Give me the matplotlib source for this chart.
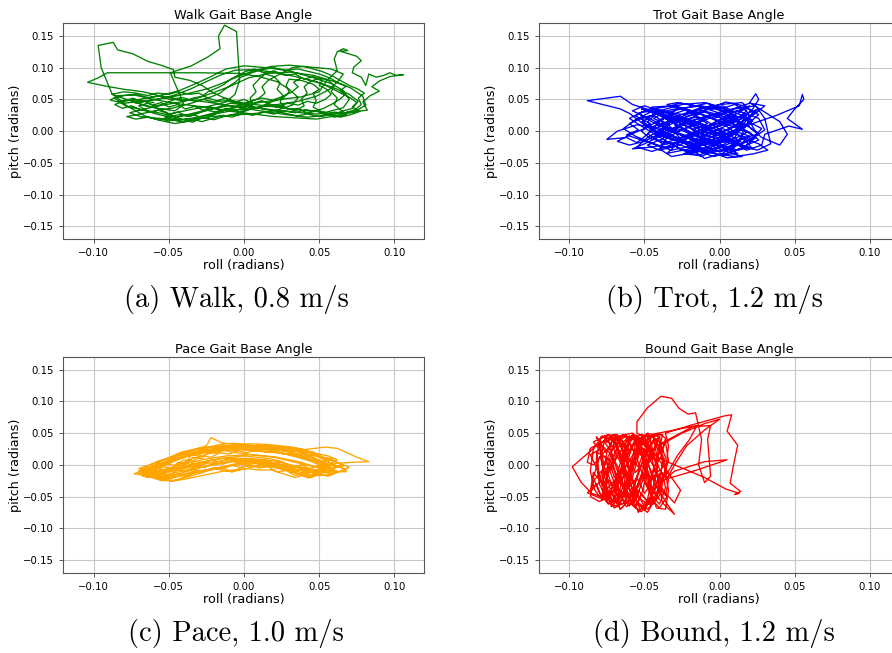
import matplotlib
matplotlib.use("Agg")
import matplotlib.pyplot as plt

# Base orientation traces, (roll, pitch) in radians, one per gait
walk_path = [
    (-0.060, 0.045), (-0.072, 0.050), (-0.083, 0.046), (-0.078, 0.039), (-0.066, 0.033),
    (-0.055, 0.028), (-0.045, 0.022), (-0.036, 0.027), (-0.024, 0.034), (-0.010, 0.040),
    (0.004, 0.038), (0.018, 0.034), (0.033, 0.030), (0.048, 0.027), (0.062, 0.029),
    (0.072, 0.036), (0.076, 0.047), (0.070, 0.058), (0.060, 0.068), (0.048, 0.078),
    (0.034, 0.086), (0.020, 0.093), (0.006, 0.097), (-0.006, 0.096), (-0.016, 0.088),
    (-0.026, 0.077), (-0.036, 0.066), (-0.046, 0.057), (-0.057, 0.050), (-0.068, 0.047),
    (-0.080, 0.044), (-0.089, 0.049), (-0.084, 0.056), (-0.073, 0.057), (-0.062, 0.051),
    (-0.049, 0.045), (-0.037, 0.041), (-0.022, 0.037), (-0.008, 0.031), (0.006, 0.027),
    (0.020, 0.023), (0.034, 0.021), (0.048, 0.019), (0.061, 0.024), (0.073, 0.030),
    (0.081, 0.041), (0.079, 0.055), (0.071, 0.068), (0.059, 0.079), (0.046, 0.088),
    (0.031, 0.093), (0.016, 0.091), (0.003, 0.084), (-0.009, 0.071), (-0.020, 0.061),
    (-0.031, 0.052), (-0.042, 0.046), (-0.054, 0.041), (-0.066, 0.035), (-0.076, 0.029),
    (-0.069, 0.023), (-0.056, 0.020), (-0.043, 0.017), (-0.031, 0.022), (-0.018, 0.030),
    (-0.004, 0.038), (0.010, 0.045), (0.024, 0.050), (0.038, 0.054), (0.050, 0.062),
    (0.055, 0.080), (0.062, 0.095), (0.060, 0.114), (0.062, 0.125), (0.066, 0.130),
    (0.069, 0.127), (0.064, 0.126), (0.075, 0.118), (0.078, 0.111), (0.073, 0.101),
    (0.072, 0.092), (0.078, 0.085), (0.081, 0.072), (0.083, 0.090), (0.088, 0.085),
    (0.093, 0.088), (0.097, 0.092), (0.101, 0.088), (0.106, 0.089), (0.097, 0.086),
    (0.090, 0.079), (0.085, 0.070), (0.090, 0.063), (0.084, 0.056), (0.079, 0.046),
    (0.082, 0.033), (0.070, 0.030), (0.056, 0.025), (0.042, 0.022), (0.028, 0.026),
    (0.014, 0.031), (0.000, 0.036), (-0.014, 0.042), (-0.028, 0.047), (-0.042, 0.050),
    (-0.055, 0.055), (-0.067, 0.062), (-0.080, 0.066), (-0.092, 0.071), (-0.104, 0.077),
    (-0.097, 0.084), (-0.091, 0.092), (-0.060, 0.092), (-0.030, 0.092), (-0.003, 0.091),
    (0.010, 0.086), (0.022, 0.078), (0.030, 0.066), (0.036, 0.053), (0.032, 0.041),
    (0.022, 0.033), (0.008, 0.028), (-0.008, 0.025), (-0.022, 0.023), (-0.036, 0.016),
    (-0.046, 0.012), (-0.056, 0.017), (-0.066, 0.024), (-0.078, 0.040), (-0.088, 0.060),
    (-0.095, 0.100), (-0.097, 0.135), (-0.087, 0.140), (-0.084, 0.128), (-0.074, 0.122),
    (-0.064, 0.110), (-0.054, 0.103), (-0.047, 0.097), (-0.046, 0.085), (-0.036, 0.080),
    (-0.028, 0.072), (-0.020, 0.060), (-0.011, 0.050), (0.000, 0.044), (0.014, 0.040),
    (0.028, 0.036), (0.042, 0.032), (0.055, 0.030), (0.066, 0.037), (0.070, 0.050),
    (0.066, 0.064), (0.058, 0.075), (0.045, 0.085), (0.030, 0.095), (0.015, 0.100),
    (0.000, 0.103), (-0.012, 0.098), (-0.022, 0.086), (-0.033, 0.074), (-0.043, 0.064),
    (-0.054, 0.057), (-0.065, 0.052), (-0.075, 0.048), (-0.068, 0.042), (-0.057, 0.036),
    (-0.046, 0.032), (-0.040, 0.042), (-0.049, 0.092), (-0.035, 0.103), (-0.024, 0.117),
    (-0.016, 0.130), (-0.017, 0.150), (-0.013, 0.167), (-0.005, 0.157), (-0.004, 0.120),
    (-0.003, 0.080), (-0.006, 0.058), (-0.012, 0.046), (-0.022, 0.040), (-0.033, 0.035),
    (-0.044, 0.030), (-0.052, 0.024), (-0.044, 0.018), (-0.032, 0.020), (-0.020, 0.027),
    (-0.006, 0.033), (0.008, 0.037), (0.022, 0.042), (0.036, 0.047), (0.048, 0.055),
    (0.057, 0.066), (0.063, 0.080), (0.066, 0.090), (0.058, 0.098), (0.044, 0.101),
    (0.030, 0.104), (0.018, 0.102), (0.006, 0.095), (-0.004, 0.086), (-0.014, 0.076),
    (-0.024, 0.067), (-0.036, 0.060), (-0.048, 0.054), (-0.060, 0.050), (-0.068, 0.046),
    (-0.074, 0.052), (-0.080, 0.047), (-0.086, 0.042), (-0.081, 0.036), (-0.075, 0.040),
    (-0.069, 0.034), (-0.062, 0.030), (-0.057, 0.033), (-0.050, 0.027), (-0.044, 0.030),
    (-0.038, 0.024), (-0.031, 0.028), (-0.025, 0.033), (-0.018, 0.030), (-0.012, 0.036),
    (-0.005, 0.033), (0.002, 0.039), (0.009, 0.036), (0.016, 0.042), (0.022, 0.038),
    (0.029, 0.044), (0.036, 0.041), (0.042, 0.047), (0.048, 0.044), (0.054, 0.050),
    (0.058, 0.058), (0.055, 0.066), (0.050, 0.072), (0.052, 0.080), (0.046, 0.086),
    (0.040, 0.082), (0.034, 0.090), (0.027, 0.088), (0.020, 0.095), (0.013, 0.092),
    (0.007, 0.098), (0.001, 0.094), (-0.004, 0.088), (-0.009, 0.082), (-0.013, 0.074),
    (-0.018, 0.068), (-0.024, 0.062), (-0.028, 0.055), (-0.034, 0.052), (-0.040, 0.047),
    (-0.046, 0.050), (-0.052, 0.044), (-0.058, 0.040), (-0.064, 0.044), (-0.070, 0.040),
    (-0.066, 0.034), (-0.060, 0.028), (-0.053, 0.024), (-0.048, 0.018), (-0.041, 0.014),
    (-0.034, 0.019), (-0.028, 0.015), (-0.021, 0.020), (-0.014, 0.025), (-0.008, 0.022),
    (-0.001, 0.028), (0.006, 0.025), (0.013, 0.030), (0.020, 0.027), (0.027, 0.032),
    (0.034, 0.029), (0.041, 0.034), (0.047, 0.031), (0.053, 0.036), (0.058, 0.042),
    (0.063, 0.049), (0.067, 0.057), (0.064, 0.064), (0.068, 0.071), (0.062, 0.077),
    (0.057, 0.084), (0.050, 0.090), (0.043, 0.094), (0.036, 0.098), (0.028, 0.096),
    (0.020, 0.100), (0.012, 0.097), (0.005, 0.092), (-0.002, 0.085), (-0.006, 0.077),
    (-0.011, 0.069), (-0.016, 0.060), (-0.022, 0.054), (-0.029, 0.049), (-0.035, 0.044),
    (-0.042, 0.040), (-0.048, 0.036), (-0.055, 0.034), (-0.063, 0.030), (-0.071, 0.026),
    (-0.078, 0.023), (-0.072, 0.019), (-0.064, 0.022), (-0.057, 0.018), (-0.050, 0.022),
    (-0.043, 0.026), (-0.036, 0.023), (-0.029, 0.030), (-0.022, 0.034), (-0.015, 0.040),
    (-0.009, 0.044), (-0.002, 0.042), (0.005, 0.048), (0.012, 0.052), (0.019, 0.049),
    (0.026, 0.055), (0.032, 0.062), (0.036, 0.070), (0.033, 0.077), (0.038, 0.084),
    (0.044, 0.080), (0.050, 0.076), (0.056, 0.070), (0.061, 0.064), (0.066, 0.058),
    (0.071, 0.052), (0.075, 0.045), (0.072, 0.038), (0.077, 0.031), (0.071, 0.026),
    (0.064, 0.022), (0.057, 0.026), (0.050, 0.023), (0.042, 0.027), (0.035, 0.024),
    (0.028, 0.028), (0.020, 0.032), (0.012, 0.035), (0.004, 0.040), (-0.004, 0.044),
    (-0.012, 0.048), (-0.020, 0.046), (-0.027, 0.050), (-0.034, 0.048), (-0.041, 0.053),
    (-0.049, 0.050), (-0.056, 0.055), (-0.064, 0.053), (-0.072, 0.058), (-0.080, 0.056),
    (-0.086, 0.052), (-0.083, 0.047), (-0.077, 0.050), (-0.072, 0.044), (-0.066, 0.047),
    (-0.061, 0.041), (-0.055, 0.045), (-0.050, 0.038), (-0.044, 0.042), (-0.039, 0.035),
    (-0.033, 0.039), (-0.027, 0.033), (-0.022, 0.038), (-0.016, 0.032), (-0.010, 0.036),
    (-0.004, 0.030), (0.002, 0.034), (0.006, 0.042), (0.004, 0.052), (0.008, 0.062),
    (0.006, 0.072), (0.010, 0.082), (0.014, 0.090), (0.020, 0.086), (0.024, 0.076),
    (0.022, 0.066), (0.026, 0.056), (0.024, 0.046), (0.028, 0.036), (0.034, 0.032),
    (0.040, 0.040), (0.038, 0.050), (0.042, 0.060), (0.040, 0.070), (0.044, 0.078),
    (0.050, 0.084), (0.056, 0.080), (0.060, 0.072), (0.058, 0.062), (0.062, 0.052),
    (0.060, 0.042), (0.064, 0.034), (0.068, 0.026), (0.060, 0.022), (0.052, 0.030),
    (0.046, 0.038), (0.048, 0.048), (0.046, 0.060), (0.050, 0.066), (0.046, 0.074),
    (0.038, 0.080), (0.030, 0.082), (0.028, 0.072), (0.030, 0.062), (0.026, 0.052),
    (0.018, 0.046), (0.012, 0.040), (0.004, 0.034), (-0.004, 0.028), (-0.012, 0.024),
    (-0.020, 0.018), (-0.028, 0.022), (-0.034, 0.014), (-0.040, 0.018), (-0.046, 0.022),
    (-0.052, 0.030), (-0.058, 0.036), (-0.066, 0.040), (-0.072, 0.046), (-0.078, 0.050),
    (-0.084, 0.055), (-0.088, 0.058), (-0.080, 0.062), (-0.072, 0.060), (-0.064, 0.056),
    (-0.058, 0.060), (-0.050, 0.058), (-0.044, 0.062), (-0.036, 0.058), (-0.030, 0.060),
    (-0.024, 0.052), (-0.018, 0.048), (-0.012, 0.052), (-0.006, 0.046), (0.000, 0.050),
    (0.006, 0.044), (0.012, 0.048), (0.018, 0.042), (0.024, 0.040), (0.030, 0.034),
    (0.036, 0.036), (0.042, 0.028), (0.048, 0.032), (0.054, 0.026), (0.060, 0.030),
    (0.066, 0.028), (0.074, 0.034), (0.078, 0.042), (0.076, 0.052), (0.080, 0.060),
    (0.076, 0.066), (0.070, 0.072), (0.064, 0.080), (0.058, 0.088), (0.052, 0.094),
    (0.046, 0.098), (0.040, 0.102), (0.032, 0.100), (0.024, 0.090), (0.016, 0.080),
    (0.012, 0.070), (0.014, 0.060), (0.010, 0.052), (0.004, 0.046), (-0.004, 0.040),
    (-0.012, 0.034), (-0.020, 0.026), (-0.026, 0.020), (-0.034, 0.026), (-0.042, 0.024),
    (-0.050, 0.016), (-0.056, 0.020),
]

trot_path = [
    (-0.030, 0.020), (-0.012, 0.010), (0.005, -0.012), (0.018, -0.025), (0.010, -0.030),
    (-0.008, -0.018), (-0.025, 0.005), (-0.040, 0.025), (-0.052, 0.035), (-0.045, 0.030),
    (-0.028, 0.015), (-0.010, -0.005), (0.008, -0.020), (0.022, -0.028), (0.015, -0.010),
    (0.002, 0.012), (-0.015, 0.030), (-0.030, 0.040), (-0.045, 0.038), (-0.038, 0.022),
    (-0.022, 0.002), (-0.005, -0.020), (0.012, -0.035), (0.000, -0.038), (-0.018, -0.025),
    (-0.035, -0.008), (-0.050, 0.010), (-0.060, 0.028), (-0.066, 0.035), (-0.088, 0.048),
    (-0.066, 0.055), (-0.058, 0.042), (-0.042, 0.030), (-0.025, 0.018), (-0.008, 0.002),
    (0.010, -0.015), (0.025, -0.005), (0.020, 0.015), (0.005, 0.030), (-0.012, 0.040),
    (-0.028, 0.035), (-0.040, 0.015), (-0.048, -0.005), (-0.055, -0.018), (-0.062, -0.010),
    (-0.075, -0.013), (-0.068, 0.000), (-0.055, 0.010), (-0.040, 0.005), (-0.020, -0.010),
    (0.000, -0.028), (0.015, -0.040), (0.005, -0.042), (-0.010, -0.030), (-0.025, -0.015),
    (-0.038, 0.000), (-0.030, 0.022), (-0.015, 0.035), (0.000, 0.042), (0.015, 0.045),
    (0.022, 0.030), (0.018, 0.010), (0.008, -0.008), (-0.005, -0.022), (-0.020, -0.035),
    (-0.032, -0.040), (-0.040, -0.028), (-0.035, -0.010), (-0.020, 0.008), (-0.005, 0.022),
    (0.010, 0.035), (0.024, 0.040), (0.030, 0.020), (0.032, 0.000), (0.034, -0.020),
    (0.025, -0.030), (0.012, -0.020), (-0.002, -0.005), (-0.018, 0.012), (-0.035, 0.028),
    (-0.050, 0.040), (-0.058, 0.032), (-0.045, 0.018), (-0.030, 0.000), (-0.015, -0.018),
    (0.000, -0.033), (0.010, -0.025), (0.005, -0.005), (-0.008, 0.015), (-0.022, 0.032),
    (-0.035, 0.042), (-0.028, 0.045), (-0.012, 0.038), (0.004, 0.025), (0.018, 0.010),
    (0.028, -0.010), (0.040, -0.022), (0.045, -0.005), (0.040, 0.015), (0.030, 0.030),
    (0.020, 0.045), (0.024, 0.059), (0.026, 0.050), (0.022, 0.035), (0.015, 0.020),
    (0.000, 0.008), (-0.015, -0.005), (-0.030, -0.020), (-0.045, -0.032), (-0.055, -0.025),
    (-0.048, -0.010), (-0.035, 0.008), (-0.020, 0.025), (-0.005, 0.038), (0.008, 0.028),
    (0.015, 0.010), (0.010, -0.010), (-0.002, -0.028), (-0.012, -0.040), (-0.025, -0.030),
    (-0.038, -0.012), (-0.050, 0.005), (-0.060, 0.020), (-0.052, 0.030), (-0.038, 0.032),
    (-0.022, 0.020), (-0.008, 0.005), (0.006, -0.012), (0.018, -0.030), (0.028, -0.022),
    (0.030, -0.005), (0.046, 0.008), (0.055, 0.003), (0.045, 0.020), (0.050, 0.035),
    (0.056, 0.050), (0.055, 0.058), (0.053, 0.040), (0.038, 0.025), (0.022, 0.012),
    (0.008, -0.002), (-0.006, -0.015), (-0.020, -0.028), (-0.035, -0.035), (-0.028, -0.020),
    (-0.015, -0.002), (-0.002, 0.015), (0.012, 0.028), (0.020, 0.040), (0.010, 0.030),
    (-0.005, 0.012), (-0.018, -0.005), (-0.030, -0.015), (-0.042, -0.005), (-0.048, 0.015),
    (-0.040, 0.032), (-0.025, 0.042), (-0.010, 0.045), (0.004, 0.035), (0.012, 0.018),
    (0.016, 0.000), (0.012, -0.018), (0.002, -0.035), (-0.010, -0.043), (-0.018, -0.030),
    (-0.026, -0.012), (-0.034, 0.010), (-0.044, 0.025), (-0.052, 0.020), (-0.046, 0.002),
    (-0.032, -0.012), (-0.016, -0.022), (0.000, -0.015), (0.012, 0.002), (0.020, 0.022),
    (0.016, 0.040), (0.004, 0.046), (-0.010, 0.032), (-0.024, 0.014), (-0.036, -0.004),
    (-0.050, -0.020), (-0.058, -0.028), (-0.045, -0.025), (-0.030, -0.018), (-0.015, -0.005),
    (0.000, 0.010), (0.014, 0.024), (0.026, 0.035), (0.018, 0.020), (0.006, 0.004),
    (-0.008, -0.012), (-0.022, -0.025), (-0.008, -0.035), (0.006, -0.028), (0.020, -0.015),
    (0.030, 0.002), (0.026, 0.020), (0.012, 0.032), (-0.004, 0.026), (-0.020, 0.010),
    (-0.026, 0.018), (-0.015, 0.022), (-0.008, 0.012), (-0.018, 0.002), (-0.010, -0.008),
    (0.000, -0.002), (0.008, -0.014), (-0.002, -0.020), (-0.012, -0.012), (-0.022, -0.020),
    (-0.030, -0.010), (-0.040, -0.002), (-0.034, 0.010), (-0.044, 0.020), (-0.036, 0.030),
    (-0.024, 0.026), (-0.014, 0.034), (-0.004, 0.028), (0.006, 0.020), (0.014, 0.012),
    (0.010, 0.000), (0.020, -0.008), (0.014, -0.020), (0.004, -0.014), (-0.006, -0.026),
    (-0.016, -0.034), (-0.026, -0.028), (-0.034, -0.018), (-0.046, -0.012), (-0.052, 0.000),
    (-0.046, 0.012), (-0.056, 0.024), (-0.048, 0.034), (-0.036, 0.038), (-0.026, 0.044),
    (-0.016, 0.040), (-0.006, 0.034), (0.002, 0.040), (0.010, 0.030), (0.018, 0.036),
    (0.026, 0.026), (0.020, 0.014), (0.028, 0.004), (0.022, -0.012), (0.012, -0.006),
    (0.002, 0.004), (-0.008, -0.004), (-0.018, 0.008), (-0.028, 0.000), (-0.038, 0.010),
    (-0.030, 0.020), (-0.040, 0.028), (-0.050, 0.022), (-0.060, 0.012), (-0.054, 0.002),
    (-0.062, -0.006), (-0.052, -0.014), (-0.042, -0.022), (-0.032, -0.030), (-0.020, -0.024),
    (-0.010, -0.032), (0.000, -0.024), (0.010, -0.032), (0.018, -0.022), (0.026, -0.014),
    (0.020, -0.002), (0.012, 0.008), (0.004, 0.018), (-0.006, 0.026), (-0.016, 0.018),
    (-0.026, 0.008), (-0.034, -0.002), (-0.044, -0.010), (-0.038, -0.020), (-0.028, -0.012),
    (-0.018, -0.002), (-0.008, 0.006), (0.002, 0.014), (0.012, 0.022), (0.022, 0.018),
    (0.016, 0.004), (0.006, -0.008), (-0.004, -0.016), (-0.014, -0.024), (-0.024, -0.036),
    (-0.014, -0.038), (-0.004, -0.030), (0.006, -0.020), (0.016, -0.012), (0.026, -0.020),
    (0.032, -0.030), (0.022, -0.036), (0.010, -0.040), (-0.002, -0.036), (-0.012, -0.026),
    (-0.022, -0.016), (-0.032, -0.006), (-0.042, 0.004), (-0.052, 0.014), (-0.044, 0.026),
    (-0.032, 0.034), (-0.020, 0.038), (-0.008, 0.044), (0.002, 0.036), (0.010, 0.042),
    (0.018, 0.032), (0.012, 0.020), (0.002, 0.010), (-0.010, 0.000), (-0.020, -0.010),
    (-0.030, -0.020), (-0.040, -0.016), (-0.048, -0.004), (-0.040, 0.008), (-0.030, 0.016),
    (-0.020, 0.024), (-0.010, 0.030), (0.000, 0.022), (0.008, 0.012), (0.016, 0.002),
    (0.024, -0.010), (0.016, -0.026), (0.006, -0.034), (-0.004, -0.040), (-0.016, -0.030),
    (-0.026, -0.022), (-0.036, -0.026), (-0.046, -0.018), (-0.056, -0.008), (-0.064, 0.004),
    (-0.056, 0.018), (-0.046, 0.030), (-0.034, 0.024), (-0.024, 0.014), (-0.014, 0.004),
    (-0.004, -0.006), (0.006, 0.002), (0.016, 0.016), (0.024, 0.028), (0.030, 0.040),
    (0.020, 0.044), (0.010, 0.036), (0.000, 0.030), (-0.010, 0.022), (-0.020, 0.016),
    (-0.030, 0.006), (-0.040, -0.004), (-0.050, -0.016), (-0.060, -0.022), (-0.068, -0.016),
    (-0.058, -0.004), (-0.048, 0.006), (-0.040, 0.018), (-0.032, 0.026), (-0.022, 0.034),
    (-0.012, 0.026), (-0.002, 0.018), (0.008, 0.008), (0.018, -0.002), (0.010, -0.012),
    (0.000, -0.018), (-0.010, -0.010), (-0.020, -0.002), (-0.030, 0.010), (-0.024, 0.020),
    (-0.014, 0.014), (-0.004, 0.004), (0.006, -0.006), (0.014, -0.016), (0.004, -0.026),
    (-0.006, -0.020), (-0.016, -0.012), (-0.026, -0.004), (-0.036, 0.004), (-0.046, 0.016),
    (-0.054, 0.028), (-0.044, 0.036), (-0.034, 0.030), (-0.024, 0.036), (-0.014, 0.028),
    (-0.004, 0.020), (0.004, 0.028), (0.012, 0.016), (0.020, 0.006), (0.026, -0.004),
    (0.018, -0.016), (0.008, -0.024), (-0.002, -0.032), (-0.012, -0.020), (-0.022, -0.010),
    (-0.032, 0.000), (-0.042, 0.012), (-0.036, 0.022), (-0.026, 0.012), (-0.016, 0.000),
    (-0.006, -0.010), (0.004, -0.004), (0.014, 0.006), (0.022, 0.016), (0.014, 0.026),
    (0.004, 0.034), (-0.006, 0.040), (-0.016, 0.032), (-0.026, 0.022), (-0.036, 0.014),
    (-0.046, 0.006), (-0.040, -0.006), (-0.030, -0.014), (-0.020, -0.020), (-0.010, -0.016),
    (0.000, -0.010), (0.010, -0.018), (0.020, -0.026), (0.012, -0.030), (0.002, -0.022),
    (-0.008, -0.014), (-0.018, -0.006), (-0.028, 0.004), (-0.038, -0.012), (-0.048, -0.022),
    (-0.040, -0.030), (-0.030, -0.024), (-0.020, -0.016), (-0.010, -0.006), (0.000, 0.004),
    (0.010, 0.014), (0.018, 0.024), (0.008, 0.022), (-0.002, 0.012), (-0.012, 0.006),
    (-0.022, 0.014), (-0.032, 0.020), (-0.042, 0.030),
]

pace_path = [
    (-0.065, -0.008), (-0.050, 0.005), (-0.035, 0.015), (-0.020, 0.022), (-0.005, 0.024),
    (0.010, 0.022), (0.025, 0.018), (0.040, 0.010), (0.052, 0.002), (0.058, -0.005),
    (0.050, -0.010), (0.035, -0.002), (0.020, 0.006), (0.005, 0.010), (-0.010, 0.008),
    (-0.025, 0.002), (-0.040, -0.006), (-0.055, -0.012), (-0.068, -0.014),
    (-0.060, -0.002), (-0.045, 0.010), (-0.030, 0.020), (-0.015, 0.027), (0.000, 0.028),
    (0.015, 0.026), (0.030, 0.020), (0.045, 0.008), (0.055, -0.004), (0.062, -0.010),
    (0.048, -0.014), (0.032, -0.006), (0.018, 0.002), (0.002, 0.006), (-0.012, 0.004),
    (-0.028, -0.004), (-0.045, -0.015), (-0.058, -0.020), (-0.070, -0.010),
    (-0.058, 0.005), (-0.042, 0.018), (-0.025, 0.030), (-0.022, 0.043), (-0.015, 0.035),
    (0.000, 0.030), (0.018, 0.028), (0.035, 0.022), (0.050, 0.012), (0.060, 0.000),
    (0.068, -0.008), (0.055, -0.016), (0.040, -0.018), (0.025, -0.006), (0.010, 0.004),
    (-0.005, 0.002), (-0.020, -0.006), (-0.035, -0.014), (-0.050, -0.022), (-0.062, -0.018),
    (-0.073, -0.014), (-0.062, -0.004), (-0.048, 0.008), (-0.032, 0.018), (-0.018, 0.024),
    (-0.002, 0.025), (0.014, 0.024), (0.030, 0.016), (0.044, 0.006), (0.056, -0.006),
    (0.045, -0.020), (0.030, -0.010), (0.016, -0.002), (0.000, -0.002), (-0.008, -0.011),
    (-0.015, -0.004), (-0.030, -0.010), (-0.045, -0.024), (-0.055, -0.025), (-0.066, -0.016),
    (-0.052, 0.000), (-0.038, 0.014), (-0.022, 0.024), (-0.006, 0.030), (0.010, 0.030),
    (0.026, 0.028), (0.040, 0.024), (0.054, 0.028), (0.062, 0.026), (0.075, 0.012),
    (0.083, 0.005), (0.072, 0.004), (0.060, 0.002), (0.048, -0.004), (0.034, 0.004),
    (0.020, 0.012), (0.004, 0.016), (-0.012, 0.014), (-0.028, 0.008), (-0.044, -0.002),
    (-0.058, -0.010), (-0.070, -0.006), (-0.056, 0.006), (-0.040, 0.016), (-0.025, 0.026),
    (-0.010, 0.030), (0.006, 0.022), (0.022, 0.020), (0.038, 0.014), (0.050, 0.004),
    (0.065, -0.004), (0.068, -0.011), (0.055, -0.010), (0.042, -0.006), (0.028, 0.000),
    (0.012, 0.000), (-0.008, -0.011), (-0.020, -0.006), (-0.036, -0.012), (-0.048, -0.020),
    (-0.060, -0.016), (-0.048, -0.004), (-0.034, 0.010), (-0.020, 0.020), (-0.004, 0.026),
    (0.012, 0.028), (0.028, 0.022), (0.042, 0.014), (0.054, 0.004), (0.058, -0.004),
    (0.050, -0.012), (0.036, -0.008), (0.022, 0.002), (0.008, 0.008), (-0.008, 0.006),
    (-0.022, 0.000), (-0.038, -0.008), (-0.052, -0.016), (-0.064, -0.012), (-0.054, 0.002),
    (-0.040, 0.012), (-0.028, 0.022), (-0.012, 0.028), (0.004, 0.030), (0.020, 0.030),
    (0.036, 0.024), (0.048, 0.016), (0.060, 0.006), (0.066, -0.002), (0.052, -0.008),
    (0.038, -0.012), (0.024, -0.004), (0.008, 0.002), (-0.006, 0.000), (-0.022, -0.008),
    (-0.036, -0.018), (-0.048, -0.026), (-0.060, -0.020), (-0.068, -0.010), (-0.056, 0.004),
    (-0.042, 0.020), (-0.030, 0.026), (-0.014, 0.030), (0.002, 0.031), (0.018, 0.028),
    (0.034, 0.022), (0.046, 0.012), (0.054, 0.000), (0.043, -0.021), (0.030, -0.008),
    (0.016, 0.002), (0.002, 0.010), (-0.014, 0.010), (-0.030, 0.004), (-0.046, -0.006),
    (-0.060, -0.014), (-0.070, -0.010), (-0.058, -0.006), (-0.052, 0.002), (-0.046, -0.001),
    (-0.040, 0.008), (-0.034, 0.006), (-0.028, 0.014), (-0.022, 0.012), (-0.016, 0.019),
    (-0.010, 0.017), (-0.004, 0.022), (0.002, 0.019), (0.008, 0.024), (0.014, 0.020),
    (0.020, 0.023), (0.026, 0.017), (0.032, 0.019), (0.038, 0.012), (0.044, 0.013),
    (0.050, 0.005), (0.055, 0.006), (0.060, -0.003), (0.064, -0.001), (0.058, -0.008),
    (0.052, -0.005), (0.046, -0.012), (0.040, -0.006), (0.034, -0.011), (0.028, -0.003),
    (0.022, -0.005), (0.016, 0.003), (0.010, 0.001), (0.004, 0.006), (-0.002, 0.003),
    (-0.008, 0.006), (-0.014, 0.001), (-0.020, 0.003), (-0.026, -0.004), (-0.032, -0.002),
    (-0.038, -0.010), (-0.044, -0.008), (-0.050, -0.016), (-0.056, -0.014), (-0.062, -0.020),
    (-0.068, -0.017), (-0.064, -0.010), (-0.058, -0.012), (-0.054, -0.003), (-0.048, -0.005),
    (-0.044, 0.004), (-0.038, 0.002), (-0.034, 0.012), (-0.028, 0.010), (-0.024, 0.020),
    (-0.018, 0.018), (-0.012, 0.026), (-0.006, 0.023), (0.000, 0.027), (0.006, 0.024),
    (0.012, 0.027), (0.018, 0.024), (0.024, 0.026), (0.030, 0.021), (0.036, 0.022),
    (0.042, 0.016), (0.048, 0.015), (0.054, 0.008), (0.060, 0.006), (0.066, 0.000),
    (0.070, -0.004), (0.064, -0.010), (0.058, -0.014), (0.052, -0.011), (0.046, -0.017),
    (0.040, -0.013), (0.034, -0.017), (0.028, -0.009), (0.022, -0.011), (0.016, -0.003),
    (0.010, -0.005), (0.004, 0.000), (-0.002, -0.004), (-0.008, -0.001), (-0.014, -0.006),
    (-0.020, -0.004), (-0.026, -0.010), (-0.032, -0.008), (-0.038, -0.016), (-0.044, -0.014),
    (-0.050, -0.021), (-0.056, -0.019), (-0.062, -0.015), (-0.056, -0.008), (-0.050, -0.010),
    (-0.045, 0.000), (-0.040, -0.002), (-0.035, 0.016), (-0.030, 0.014), (-0.026, 0.024),
    (-0.020, 0.022), (-0.014, 0.030), (-0.008, 0.028), (-0.002, 0.032), (0.004, 0.029),
    (0.010, 0.031), (0.016, 0.029), (0.022, 0.030), (0.028, 0.026), (0.034, 0.027),
    (0.040, 0.020), (0.046, 0.020), (0.052, 0.012), (0.058, 0.010), (0.062, 0.003),
    (0.056, -0.002), (0.050, 0.000), (0.044, -0.006), (0.038, 0.000), (0.032, -0.004),
    (0.026, 0.004), (0.020, 0.002), (0.014, 0.008), (0.008, 0.006), (0.002, 0.010),
    (-0.004, 0.007), (-0.010, 0.010), (-0.016, 0.005), (-0.022, 0.007), (-0.028, 0.000),
    (-0.034, 0.002), (-0.040, -0.006), (-0.046, -0.004), (-0.052, -0.012), (-0.058, -0.010),
    (-0.064, -0.016), (-0.058, -0.004), (-0.050, 0.004), (-0.042, 0.012), (-0.034, 0.018),
    (-0.026, 0.022), (-0.018, 0.025), (-0.010, 0.021), (-0.002, 0.018), (0.006, 0.016),
    (0.014, 0.014), (0.022, 0.012), (0.030, 0.008), (0.038, 0.004), (0.046, -0.002),
    (0.054, -0.006), (0.062, -0.012), (0.056, -0.018), (0.048, -0.014), (0.040, -0.008),
    (0.032, -0.002), (0.024, 0.006), (0.016, 0.010), (0.008, 0.012), (0.000, 0.014),
    (-0.008, 0.012), (-0.016, 0.010), (-0.024, 0.006), (-0.032, 0.000), (-0.040, -0.004),
    (-0.048, -0.010), (-0.056, -0.016), (-0.064, -0.020), (-0.070, -0.014), (-0.064, -0.006),
    (-0.056, 0.000), (-0.048, 0.010), (-0.040, 0.018), (-0.032, 0.024), (-0.024, 0.028),
    (-0.016, 0.032), (-0.008, 0.034), (0.000, 0.033), (0.008, 0.033), (0.016, 0.032),
    (0.024, 0.030), (0.032, 0.028), (0.040, 0.024), (0.048, 0.018), (0.056, 0.014),
    (0.062, 0.008), (0.056, 0.000), (0.048, -0.008), (0.040, -0.016), (0.034, -0.020),
    (0.026, -0.014), (0.018, -0.008), (0.010, -0.008), (0.002, -0.006), (-0.006, -0.008),
    (-0.014, -0.010), (-0.022, -0.014), (-0.030, -0.018), (-0.038, -0.022), (-0.046, -0.025),
    (-0.054, -0.024), (-0.062, -0.018),
]

bound_path = [
    (-0.060, 0.040), (-0.064, 0.000), (-0.069, -0.040), (-0.067, -0.062), (-0.060, -0.030),
    (-0.055, 0.020), (-0.050, 0.046), (-0.047, 0.010), (-0.051, -0.040), (-0.056, -0.068),
    (-0.062, -0.040), (-0.066, 0.010), (-0.070, 0.044), (-0.075, 0.020), (-0.078, -0.020),
    (-0.074, -0.052), (-0.066, -0.060), (-0.058, -0.020), (-0.052, 0.030), (-0.044, 0.048),
    (-0.041, 0.000), (-0.045, -0.050), (-0.050, -0.072), (-0.058, -0.050), (-0.064, -0.010),
    (-0.068, 0.030), (-0.072, 0.046), (-0.082, 0.030), (-0.098, -0.003), (-0.092, -0.028),
    (-0.085, -0.045), (-0.076, -0.052), (-0.070, -0.030), (-0.064, 0.020), (-0.058, 0.048),
    (-0.052, 0.020), (-0.048, -0.030), (-0.044, -0.062), (-0.040, -0.040), (-0.038, 0.010),
    (-0.040, 0.045), (-0.046, 0.030), (-0.054, -0.010), (-0.060, -0.055), (-0.066, -0.070),
    (-0.072, -0.045), (-0.077, 0.000), (-0.080, 0.040), (-0.074, 0.048), (-0.066, 0.020),
    (-0.060, -0.025), (-0.055, -0.060), (-0.048, -0.075), (-0.042, -0.050), (-0.036, -0.010),
    (-0.034, 0.030), (-0.036, 0.050), (-0.020, 0.062), (0.003, 0.077), (0.008, 0.079),
    (0.005, 0.053), (0.012, 0.031), (0.009, -0.003), (0.007, -0.029), (0.014, -0.042),
    (0.010, -0.047), (0.013, -0.045), (0.004, -0.038), (-0.010, -0.020), (-0.025, -0.005),
    (-0.040, 0.010), (-0.050, 0.030), (-0.055, 0.047), (-0.057, 0.020), (-0.061, -0.030),
    (-0.063, -0.060), (-0.070, -0.065), (-0.075, -0.035), (-0.079, 0.010), (-0.076, 0.046),
    (-0.068, 0.048), (-0.062, 0.010), (-0.058, -0.040), (-0.053, -0.070), (-0.046, -0.060),
    (-0.043, -0.020), (-0.040, 0.025), (-0.038, 0.048), (-0.050, 0.044), (-0.055, 0.050),
    (-0.055, 0.068), (-0.048, 0.090), (-0.039, 0.108), (-0.032, 0.105), (-0.027, 0.089),
    (-0.021, 0.080), (-0.016, 0.082), (-0.012, 0.040), (-0.014, 0.000), (-0.010, -0.028),
    (-0.006, -0.018), (-0.008, 0.040), (-0.006, 0.062), (-0.018, 0.060), (-0.030, 0.045),
    (-0.042, 0.030), (-0.050, 0.000), (-0.056, -0.045), (-0.060, -0.065), (-0.066, -0.050),
    (-0.070, -0.010), (-0.073, 0.035), (-0.078, 0.046), (-0.084, 0.025), (-0.086, -0.010),
    (-0.083, -0.040), (-0.078, -0.056), (-0.070, -0.040), (-0.065, 0.000), (-0.060, 0.038),
    (-0.054, 0.044), (-0.050, 0.005), (-0.046, -0.040), (-0.042, -0.068), (-0.036, -0.070),
    (-0.034, -0.040), (-0.037, 0.000), (-0.042, 0.040), (-0.048, 0.048), (-0.058, 0.030),
    (-0.064, -0.015), (-0.068, -0.055), (-0.074, -0.060), (-0.080, -0.030), (-0.082, 0.010),
    (-0.079, 0.044), (-0.070, 0.040), (-0.064, 0.000), (-0.059, -0.045), (-0.054, -0.075),
    (-0.048, -0.055), (-0.044, -0.010), (-0.040, 0.030), (-0.025, 0.050), (-0.010, 0.065),
    (0.000, 0.072), (-0.010, 0.055), (-0.022, 0.030), (-0.030, 0.000), (-0.035, -0.022),
    (-0.015, -0.008), (0.005, 0.008), (-0.010, 0.005), (-0.030, -0.010), (-0.042, -0.035),
    (-0.048, -0.062), (-0.055, -0.050), (-0.060, -0.008), (-0.064, 0.035), (-0.069, 0.046),
    (-0.073, 0.010), (-0.076, -0.030), (-0.072, -0.066), (-0.064, -0.045), (-0.058, 0.000),
    (-0.053, 0.042), (-0.047, 0.046), (-0.043, 0.010), (-0.040, -0.035), (-0.038, -0.060),
    (-0.030, -0.078), (-0.036, -0.058), (-0.044, -0.025), (-0.050, 0.020), (-0.056, 0.046),
    (-0.062, 0.030), (-0.066, -0.020), (-0.070, -0.050), (-0.066, -0.070), (-0.060, -0.055),
    (-0.054, -0.015), (-0.048, 0.030), (-0.045, 0.048), (-0.030, 0.055), (-0.015, 0.062),
    (-0.020, 0.040), (-0.028, 0.015), (-0.034, -0.010), (-0.040, -0.030), (-0.046, -0.020),
    (-0.052, 0.015), (-0.058, 0.044), (-0.066, 0.044), (-0.072, 0.000), (-0.078, -0.040),
    (-0.075, -0.058), (-0.068, -0.030), (-0.062, 0.015), (-0.056, 0.040), (-0.050, 0.010),
    (-0.045, -0.040), (-0.040, -0.055), (-0.046, -0.030), (-0.050, -0.045), (-0.055, -0.020),
    (-0.060, -0.035), (-0.064, -0.005), (-0.070, -0.020), (-0.074, 0.010), (-0.078, 0.000),
    (-0.080, 0.030), (-0.076, 0.040), (-0.070, 0.026), (-0.066, 0.042), (-0.060, 0.022),
    (-0.056, 0.036), (-0.050, 0.012), (-0.046, 0.028), (-0.042, 0.002), (-0.038, 0.016),
    (-0.035, -0.012), (-0.040, -0.026), (-0.044, -0.006), (-0.048, -0.036), (-0.052, -0.016),
    (-0.058, -0.050), (-0.062, -0.030), (-0.068, -0.062), (-0.072, -0.040), (-0.078, -0.054),
    (-0.082, -0.030), (-0.086, -0.042), (-0.084, -0.012), (-0.080, -0.024), (-0.076, 0.004),
    (-0.072, -0.008), (-0.068, 0.020), (-0.064, 0.006), (-0.060, 0.034), (-0.056, 0.016),
    (-0.052, 0.044), (-0.048, 0.024), (-0.044, 0.040), (-0.040, 0.018), (-0.036, 0.036),
    (-0.034, 0.006), (-0.038, -0.020), (-0.042, -0.044), (-0.046, -0.064), (-0.052, -0.046),
    (-0.056, -0.068), (-0.062, -0.050), (-0.066, -0.024), (-0.070, -0.044), (-0.074, -0.016),
    (-0.078, -0.034), (-0.082, -0.004), (-0.086, 0.016), (-0.080, 0.024), (-0.084, 0.036),
    (-0.076, 0.046), (-0.070, 0.036), (-0.064, 0.048), (-0.058, 0.040), (-0.052, 0.048),
    (-0.046, 0.042), (-0.040, 0.049), (-0.036, 0.042), (-0.038, 0.020), (-0.042, 0.034),
    (-0.046, 0.006), (-0.050, 0.026), (-0.054, -0.004), (-0.058, 0.010), (-0.062, -0.020),
    (-0.066, -0.008), (-0.070, -0.036), (-0.074, -0.024), (-0.078, -0.048), (-0.072, -0.058),
    (-0.066, -0.040), (-0.060, -0.062), (-0.054, -0.040), (-0.048, -0.058), (-0.042, -0.034),
    (-0.036, -0.048), (-0.034, -0.024), (-0.040, -0.008), (-0.046, -0.024), (-0.052, 0.000),
    (-0.056, -0.012), (-0.062, 0.018), (-0.066, 0.004), (-0.072, 0.032), (-0.076, 0.020),
    (-0.082, 0.044), (-0.078, 0.030), (-0.072, 0.016), (-0.068, -0.002), (-0.062, -0.044),
    (-0.058, -0.064), (-0.052, -0.074), (-0.046, -0.052), (-0.040, -0.068), (-0.035, -0.050),
    (-0.040, -0.030), (-0.044, 0.000), (-0.048, 0.040), (-0.054, 0.030), (-0.058, 0.046),
    (-0.064, 0.030), (-0.070, 0.044), (-0.074, 0.026), (-0.080, 0.012), (-0.084, -0.020),
    (-0.080, -0.044), (-0.074, -0.062), (-0.068, -0.052), (-0.064, -0.034), (-0.058, -0.006),
    (-0.054, 0.020), (-0.048, 0.004), (-0.044, -0.020), (-0.038, -0.040), (-0.030, -0.060),
    (-0.026, -0.040), (-0.032, -0.020), (-0.038, 0.000), (-0.044, 0.020), (-0.050, 0.036),
    (-0.056, 0.046), (-0.062, 0.038), (-0.068, 0.012), (-0.074, -0.006), (-0.078, -0.024),
    (-0.084, -0.036), (-0.088, -0.044), (-0.080, -0.052), (-0.072, -0.030), (-0.066, -0.014),
    (-0.060, 0.006), (-0.055, 0.028), (-0.050, 0.044), (-0.046, 0.020), (-0.050, -0.010),
    (-0.054, -0.034), (-0.060, -0.054), (-0.064, -0.036), (-0.068, -0.010), (-0.072, 0.020),
    (-0.076, 0.034), (-0.070, 0.048), (-0.066, 0.030), (-0.062, 0.004), (-0.058, -0.022),
    (-0.054, -0.048), (-0.050, -0.066), (-0.044, -0.044), (-0.040, -0.016), (-0.036, 0.012),
    (-0.040, 0.036), (-0.046, 0.046), (-0.052, 0.032), (-0.056, 0.008), (-0.060, -0.016),
    (-0.064, -0.044), (-0.070, -0.058), (-0.076, -0.044), (-0.080, -0.016), (-0.082, 0.020),
    (-0.076, 0.012), (-0.072, -0.016), (-0.068, -0.040), (-0.062, -0.066), (-0.056, -0.056),
    (-0.052, -0.030), (-0.048, -0.004), (-0.044, 0.024), (-0.040, 0.044), (-0.048, 0.050),
    (-0.056, 0.036), (-0.062, 0.012), (-0.066, -0.012), (-0.070, -0.028), (-0.074, -0.050),
    (-0.080, -0.058), (-0.086, -0.050), (-0.084, -0.026), (-0.078, -0.008), (-0.074, 0.014),
    (-0.068, 0.036), (-0.062, 0.046), (-0.058, 0.026), (-0.054, 0.004), (-0.050, -0.024),
    (-0.046, -0.046), (-0.040, -0.062), (-0.036, -0.036), (-0.038, -0.014), (-0.044, 0.010),
    (-0.050, 0.034), (-0.058, 0.050), (-0.066, 0.046), (-0.072, 0.040), (-0.080, 0.034),
    (-0.086, 0.026), (-0.088, 0.004), (-0.084, 0.000), (-0.078, 0.016), (-0.072, 0.004),
    (-0.066, -0.030), (-0.060, -0.046), (-0.054, -0.060), (-0.048, -0.070), (-0.044, -0.060),
    (-0.040, -0.048), (-0.038, -0.030), (-0.042, -0.010), (-0.048, 0.014), (-0.054, 0.036),
    (-0.060, 0.046), (-0.068, 0.026), (-0.074, 0.000), (-0.078, -0.020), (-0.076, -0.046),
    (-0.070, -0.068), (-0.062, -0.058),
]

panels = [
    ("Walk Gait Base Angle", "(a) Walk, 0.8 m/s", walk_path, "green"),
    ("Trot Gait Base Angle", "(b) Trot, 1.2 m/s", trot_path, "blue"),
    ("Pace Gait Base Angle", "(c) Pace, 1.0 m/s", pace_path, "orange"),
    ("Bound Gait Base Angle", "(d) Bound, 1.2 m/s", bound_path, "red"),
]

xticks = [-0.10, -0.05, 0.00, 0.05, 0.10]
yticks = [-0.15, -0.10, -0.05, 0.00, 0.05, 0.10, 0.15]

fig = plt.figure(figsize=(8.92, 6.53), dpi=100)

W, H = 892.0, 653.0
ax_w, ax_h = 361.0, 216.0
lefts = [63.0, 538.6]
tops = [23.3, 357.0]
caption_x = [236.0, 714.0]
caption_y = [300.0, 634.0]

for i, (title, caption, path, color) in enumerate(panels):
    r, c = divmod(i, 2)
    roll = [p[0] for p in path]
    pitch = [p[1] for p in path]
    ax = fig.add_axes([lefts[c] / W, (H - tops[r] - ax_h) / H, ax_w / W, ax_h / H])
    ax.plot(roll, pitch, color=color, linewidth=0.95)
    ax.set_xlim(-0.1204, 0.1197)
    ax.set_ylim(-0.1705, 0.1700)
    ax.set_xticks(xticks)
    ax.set_yticks(yticks)
    ax.set_xticklabels([f"{t:.2f}".replace("-", "\u2212") for t in xticks])
    ax.set_yticklabels([f"{t:.2f}".replace("-", "\u2212") for t in yticks])
    ax.tick_params(labelsize=7.3, length=3.0, width=0.7, color="#555555")
    ax.grid(True, color="#c8c8c8", linewidth=0.8)
    ax.set_axisbelow(True)
    for s in ax.spines.values():
        s.set_color("#555555")
        s.set_linewidth(0.8)
    ax.set_title(title, fontsize=9.3, pad=3)
    ax.set_xlabel("roll (radians)", fontsize=9.2, labelpad=0.5)
    ax.set_ylabel("pitch (radians)", fontsize=9.2, labelpad=0.5)
    fig.text(caption_x[c] / W, (H - caption_y[r]) / H, caption,
             ha="center", va="center", fontfamily="cmr10", fontsize=20.5)

fig.savefig("out.png", dpi=100)
